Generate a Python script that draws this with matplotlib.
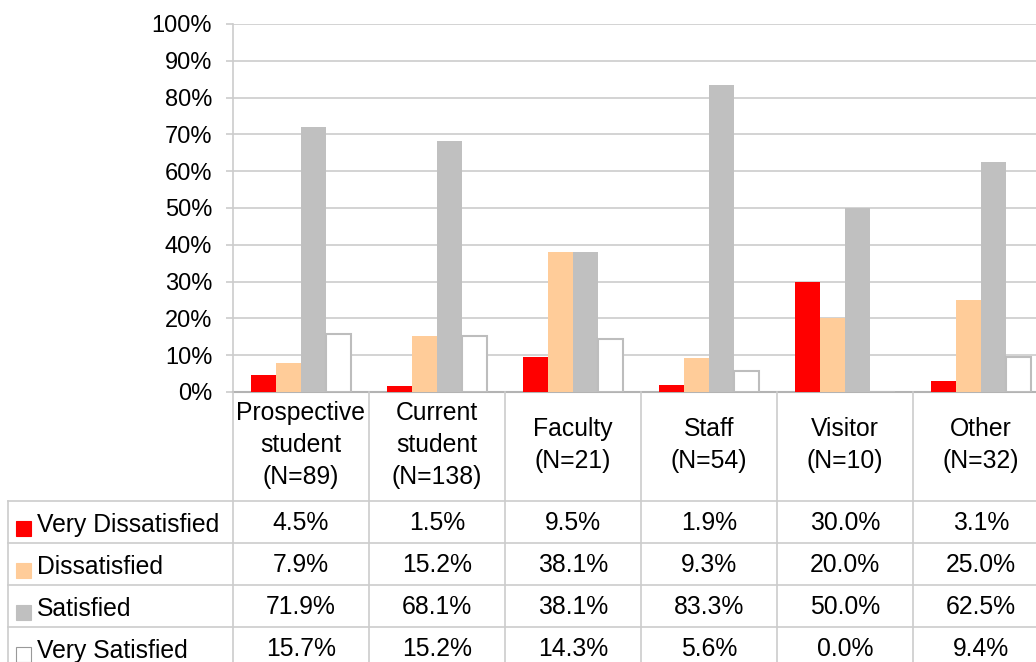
import matplotlib.pyplot as plt
import numpy as np
from matplotlib.patches import Rectangle

plt.rcParams["font.family"] = ["Liberation Sans", "DejaVu Sans"]

categories = [
    "Prospective\nstudent\n(N=89)",
    "Current\nstudent\n(N=138)",
    "Faculty\n(N=21)",
    "Staff\n(N=54)",
    "Visitor\n(N=10)",
    "Other\n(N=32)",
]
series_names = ["Very Dissatisfied", "Dissatisfied", "Satisfied", "Very Satisfied"]
very_dissatisfied = [4.5, 1.5, 9.5, 1.9, 30.0, 3.1]
dissatisfied = [7.9, 15.2, 38.1, 9.3, 20.0, 25.0]
satisfied = [71.9, 68.1, 38.1, 83.3, 50.0, 62.5]
very_satisfied = [15.7, 15.2, 14.3, 5.6, 0.0, 9.4]
y_ticks = [0, 10, 20, 30, 40, 50, 60, 70, 80, 90, 100]

series = [very_dissatisfied, dissatisfied, satisfied, very_satisfied]
fills = ["#ff0000", "#ffcc99", "#c0c0c0", "#ffffff"]
edges = ["none", "none", "none", "#bdbdbd"]
grid_col = "#cccccc"
fs_tick = 17
fs_tab = 17.8

W, H = 1036, 662
fig = plt.figure(figsize=(W / 100, H / 100), dpi=100)


def px_axes(left, top, right, bottom):
    return fig.add_axes([left / W, 1 - bottom / H, (right - left) / W, (bottom - top) / H])


# plot area runs past the right edge of the picture, as in the source
ax = px_axes(233, 24, 1049, 392)
n = len(categories)
x = np.arange(n) + 0.5
w = 25 / 136

for i, vals in enumerate(series):
    ax.bar(x + (i - 1.5) * w, vals, w, color=fills[i], edgecolor=edges[i],
           linewidth=1.5, zorder=3)

ax.set_xlim(0, n)
ax.set_ylim(0, 100)
ax.set_yticks(y_ticks)
ax.set_yticklabels([f"{t}%" for t in y_ticks], fontsize=fs_tick)
ax.set_xticks([])
ax.yaxis.grid(True, color=grid_col, lw=1.2)
ax.set_axisbelow(True)
ax.tick_params(axis="y", length=5, width=1.2, color=grid_col, pad=10)
for s in ["top", "right"]:
    ax.spines[s].set_visible(False)
ax.spines["left"].set_color(grid_col)
ax.spines["left"].set_linewidth(1.2)
ax.spines["bottom"].set_color("#b3b3b3")
ax.spines["bottom"].set_linewidth(1.5)

# data table under the chart, x in category units, y in pixel rows
tab = px_axes(233, 392, 1049, 662)
tab.set_xlim(0, n)
tab.set_ylim(662, 392)
tab.axis("off")


def cx(px):
    return (px - 233) / 136


label_left = cx(8)
header_bottom = 501
row_h = 42
row_tops = [header_bottom + row_h * i for i in range(len(series))]
line_kw = dict(color=grid_col, lw=1.2, clip_on=False)

for yt in row_tops:
    tab.plot([label_left, n], [yt, yt], **line_kw)
for k in range(n + 1):
    tab.plot([k, k], [392, 680], **line_kw)
tab.plot([label_left, label_left], [header_bottom, 680], **line_kw)

for i, cat in enumerate(categories):
    tab.text(x[i], 445, cat, ha="center", va="center", fontsize=fs_tab,
             linespacing=1.42, clip_on=False)

for r, (name, vals) in enumerate(zip(series_names, series)):
    yc = row_tops[r] + row_h / 2
    tab.add_patch(Rectangle((cx(16), yc - 1), cx(31) - cx(16), 15,
                            facecolor=fills[r],
                            edgecolor="#999999" if edges[r] != "none" else fills[r],
                            lw=0.8, clip_on=False))
    tab.text(cx(37), yc + 3, name, ha="left", va="center", fontsize=fs_tab, clip_on=False)
    for i, v in enumerate(vals):
        tab.text(x[i], yc + 1, f"{v:.1f}%", ha="center", va="center", fontsize=fs_tab,
                 clip_on=False)

fig.savefig("out.png", dpi=100)
